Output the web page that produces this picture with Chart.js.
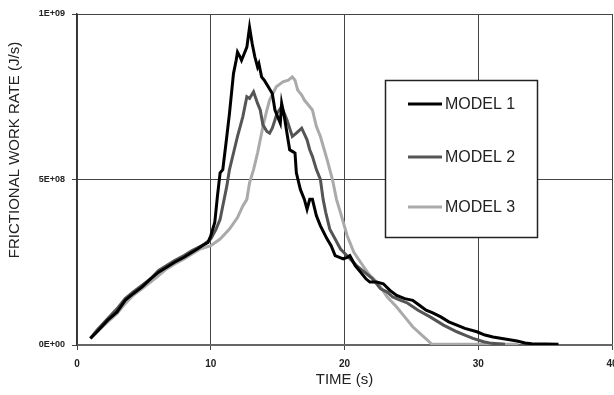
<!DOCTYPE html>
<html>
<head>
<meta charset="utf-8">
<script src="https://cdn.jsdelivr.net/npm/chart.js@4.4.0/dist/chart.umd.min.js"></script>
<style>
    html, body { margin: 0; padding: 0; background: #fff; }
    #frictionChart { display: block; }
</style>
</head>
<body>
<canvas id="frictionChart" width="614" height="395"></canvas>
<script>
// Values (rate in units of 1E+09 J/s)
const model1Time = [1.0, 1.5, 2.3, 3.0, 3.6, 4.2, 4.85, 5.5, 6.1, 6.7, 7.3, 8.0, 8.6, 9.0, 9.35, 9.8, 10.0, 10.3, 10.5, 10.7, 10.9, 11.2, 11.4, 11.7, 11.9, 12.0, 12.2, 12.3, 12.5, 12.7, 12.9, 13.1, 13.3, 13.5, 13.6, 13.8, 14.0, 14.3, 14.6, 14.8, 15.0, 15.2, 15.3, 15.5, 15.7, 15.9, 16.1, 16.3, 16.4, 16.7, 17.0, 17.2, 17.4, 17.6, 17.9, 18.2, 18.7, 19.0, 19.3, 19.9, 20.2, 20.4, 20.8, 21.2, 21.6, 21.9, 22.4, 22.9, 23.4, 23.9, 24.5, 25.1, 25.6, 26.1, 26.6, 27.2, 27.8, 28.4, 29.0, 29.9, 30.5, 31.1, 32.0, 32.9, 33.5, 34.0, 35.0, 36.0];
const model1Rate = [0.02, 0.04, 0.075, 0.10, 0.135, 0.155, 0.175, 0.20, 0.22, 0.235, 0.25, 0.265, 0.28, 0.29, 0.30, 0.31, 0.33, 0.37, 0.45, 0.52, 0.53, 0.63, 0.70, 0.82, 0.86, 0.885, 0.87, 0.86, 0.88, 0.90, 0.96, 0.91, 0.87, 0.84, 0.85, 0.81, 0.80, 0.78, 0.76, 0.71, 0.69, 0.67, 0.73, 0.69, 0.64, 0.59, 0.585, 0.58, 0.52, 0.47, 0.44, 0.41, 0.44, 0.44, 0.39, 0.36, 0.32, 0.30, 0.27, 0.26, 0.265, 0.27, 0.24, 0.22, 0.20, 0.19, 0.19, 0.185, 0.165, 0.15, 0.14, 0.135, 0.12, 0.105, 0.097, 0.085, 0.07, 0.06, 0.05, 0.04, 0.03, 0.024, 0.018, 0.012, 0.006, 0.004, 0.003, 0.002];

const model2Time = [1.0, 1.5, 2.3, 3.0, 3.6, 4.2, 4.85, 5.5, 6.1, 6.7, 7.3, 8.0, 8.6, 9.35, 10.0, 10.4, 10.7, 10.9, 11.2, 11.4, 11.7, 12.0, 12.2, 12.4, 12.7, 12.9, 13.2, 13.5, 13.7, 13.9, 14.2, 14.4, 14.6, 14.8, 14.95, 15.3, 15.5, 15.7, 16.1, 16.4, 16.8, 17.2, 17.4, 17.6, 17.9, 18.2, 18.4, 18.6, 18.9, 19.3, 19.7, 20.3, 20.9, 21.5, 22.1, 22.7, 23.2, 23.6, 24.2, 24.7, 25.5, 26.4, 27.4, 28.4, 29.0, 29.6, 30.4, 31.0, 32.0];
const model2Rate = [0.02, 0.045, 0.08, 0.11, 0.14, 0.16, 0.18, 0.20, 0.225, 0.24, 0.255, 0.27, 0.285, 0.30, 0.32, 0.35, 0.38, 0.42, 0.48, 0.53, 0.58, 0.63, 0.66, 0.69, 0.75, 0.745, 0.765, 0.73, 0.71, 0.665, 0.645, 0.64, 0.655, 0.68, 0.70, 0.72, 0.70, 0.68, 0.63, 0.64, 0.655, 0.62, 0.59, 0.57, 0.53, 0.50, 0.44, 0.40, 0.35, 0.32, 0.29, 0.265, 0.24, 0.22, 0.20, 0.17, 0.16, 0.145, 0.135, 0.127, 0.105, 0.085, 0.06, 0.04, 0.03, 0.02, 0.01, 0.005, 0.002];

const model3Time = [1.0, 1.5, 2.3, 3.0, 3.6, 4.2, 4.85, 5.5, 6.1, 6.7, 7.3, 8.0, 8.6, 9.2, 10.0, 10.7, 11.4, 12.0, 12.4, 12.7, 12.9, 13.2, 13.5, 13.9, 14.2, 14.4, 14.9, 15.4, 15.8, 16.1, 16.3, 16.5, 16.8, 17.0, 17.3, 17.6, 17.9, 18.2, 18.7, 19.1, 19.4, 19.7, 20.2, 20.7, 21.2, 21.8, 22.4, 22.7, 23.2, 23.9, 24.5, 25.1, 25.7, 26.2, 26.5, 27.5, 30.0, 33.0];
const model3Rate = [0.02, 0.04, 0.07, 0.095, 0.125, 0.15, 0.17, 0.19, 0.21, 0.23, 0.245, 0.26, 0.275, 0.29, 0.30, 0.32, 0.35, 0.385, 0.42, 0.44, 0.49, 0.53, 0.58, 0.66, 0.71, 0.74, 0.78, 0.795, 0.80, 0.81, 0.80, 0.77, 0.755, 0.74, 0.725, 0.71, 0.66, 0.63, 0.56, 0.50, 0.44, 0.40, 0.33, 0.28, 0.25, 0.215, 0.19, 0.175, 0.145, 0.115, 0.085, 0.055, 0.033, 0.015, 0.003, 0.002, 0.002, 0.002];

const seriesNames = ['MODEL 1', 'MODEL 2', 'MODEL 3'];
const seriesColors = ['#000000', '#555555', '#aaaaaa'];
const xTicks = [0, 10, 20, 30, 40];
const yTickLabels = ['0E+00', '5E+08', '1E+09'];

function toPoints(times, rates) {
    return times.map((t, i) => ({ x: t, y: rates[i] }));
}

// Y title and the boxed legend inside the plot
const overlayPlugin = {
    id: 'overlay',
    afterDraw(chart) {
        const ctx = chart.ctx;
        ctx.save();

        // y axis title
        ctx.fillStyle = '#222';
        ctx.font = '15px "Liberation Sans", Arial, sans-serif';
        ctx.textAlign = 'center';
        ctx.textBaseline = 'middle';
        ctx.translate(15, 150);
        ctx.rotate(-Math.PI / 2);
        ctx.fillText('FRICTIONAL WORK RATE (J/s)', 0, 0);
        ctx.restore();

        // legend box
        ctx.save();
        ctx.fillStyle = '#fff';
        ctx.fillRect(385, 80, 153, 158);
        ctx.strokeStyle = '#222';
        ctx.lineWidth = 1.5;
        ctx.strokeRect(385.5, 80.5, 152, 157);

        const rows = [104, 157, 207];
        ctx.font = '16px "Liberation Sans", Arial, sans-serif';
        ctx.textAlign = 'left';
        ctx.textBaseline = 'middle';
        chart.data.datasets.forEach((ds, i) => {
            ctx.strokeStyle = ds.borderColor;
            ctx.lineWidth = 3;
            ctx.beginPath();
            ctx.moveTo(408, rows[i]);
            ctx.lineTo(442, rows[i]);
            ctx.stroke();
            ctx.fillStyle = '#222';
            ctx.fillText(ds.label, 445, rows[i] + 1);
        });
        ctx.restore();
    }
};

const chart = new Chart(document.getElementById('frictionChart'), {
    type: 'line',
    data: {
        datasets: [
            { label: seriesNames[0], data: toPoints(model1Time, model1Rate) },
            { label: seriesNames[1], data: toPoints(model2Time, model2Rate) },
            { label: seriesNames[2], data: toPoints(model3Time, model3Rate) }
        ].map((ds, i) => Object.assign(ds, {
            borderColor: seriesColors[i],
            borderWidth: 3,
            pointRadius: 0,
            tension: 0,
            fill: false
        }))
    },
    options: {
        responsive: false,
        devicePixelRatio: 1,
        animation: false,
        layout: { padding: { top: 14, right: 2, left: 0, bottom: 0 } },
        plugins: {
            legend: { display: false },
            tooltip: { enabled: false }
        },
        scales: {
            x: {
                type: 'linear',
                min: 0,
                max: 40,
                afterBuildTicks: scale => {
                    scale.ticks = xTicks.map(v => ({ value: v }));
                },
                ticks: {
                    color: '#222',
                    font: { family: '"Liberation Sans", Arial', size: 10, weight: 'bold' },
                    padding: 8,
                    maxRotation: 0
                },
                grid: { color: '#444', lineWidth: 1, tickLength: 5 },
                border: { color: '#666', width: 2 },
                title: {
                    display: true,
                    text: 'TIME (s)',
                    color: '#222',
                    font: { family: '"Liberation Sans", Arial', size: 15 },
                    padding: { top: 0, bottom: 6 }
                },
                afterFit: scale => {
                    scale.height = 50;
                    scale.paddingRight = 0;
                    scale.paddingLeft = 0;
                }
            },
            y: {
                min: 0,
                max: 1,
                ticks: {
                    stepSize: 0.5,
                    color: '#222',
                    font: { family: '"Liberation Sans", Arial', size: 9, weight: 'bold' },
                    padding: 7,
                    callback: (value, index) => yTickLabels[index]
                },
                grid: { color: '#444', lineWidth: 1, tickLength: 5 },
                border: { color: '#333', width: 1.5 },
                afterFit: scale => {
                    scale.width = 77;
                    scale.paddingTop = 0;
                    scale.paddingBottom = 0;
                }
            }
        }
    },
    plugins: [overlayPlugin]
});
</script>
</body>
</html>
